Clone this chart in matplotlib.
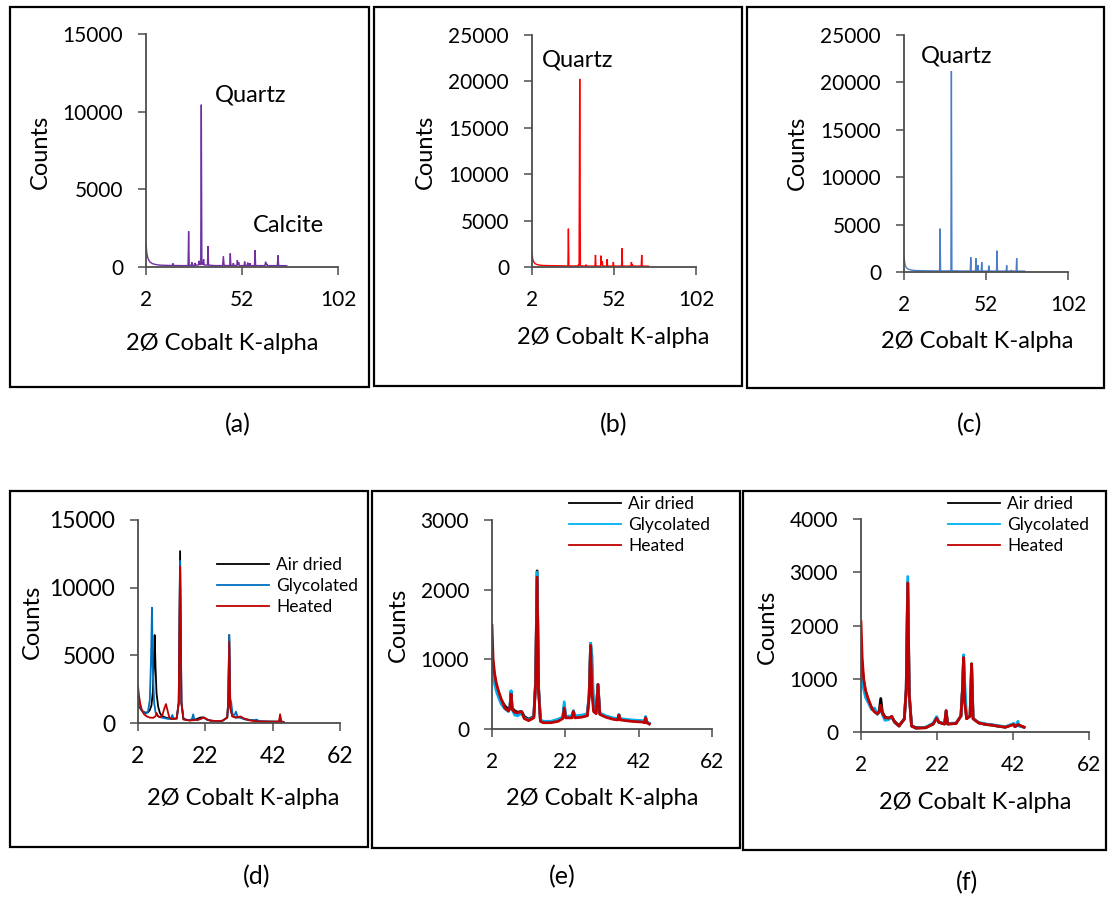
import matplotlib
matplotlib.use('Agg')
import matplotlib.pyplot as plt
from matplotlib.patches import Rectangle

plt.rcParams['font.family'] = ['Lato', 'DejaVu Sans']

W, H = 1108, 897

# ---- bulk sample patterns (2theta, counts) ----
a_xrd = [(2.0, 1550), (2.4, 900), (2.9, 600), (3.5, 420), (4.3, 300), (5.3, 220), (6.7, 170),
         (8.5, 130), (11, 110), (14, 100), (15.8, 100), (16.0, 230), (16.3, 100), (20, 90),
         (23.9, 90), (24.2, 2300), (24.5, 110), (25.6, 100), (25.9, 300), (26.2, 110),
         (27.3, 110), (27.6, 260), (27.9, 120), (29.3, 130), (29.6, 400), (29.9, 150),
         (30.5, 160), (30.8, 10450), (31.1, 200), (31.7, 150), (32.0, 500), (32.3, 130),
         (34.0, 120), (34.3, 1350), (34.6, 120), (38, 90), (41.9, 90), (42.3, 700), (42.7, 100),
         (45.6, 90), (45.9, 880), (46.2, 100), (47.2, 100), (47.5, 250), (47.8, 100),
         (49.3, 100), (49.6, 450), (49.9, 120), (50.3, 300), (50.6, 90), (53.1, 90),
         (53.4, 350), (53.7, 100), (54.7, 100), (55.0, 280), (55.3, 100), (55.9, 100),
         (56.2, 250), (56.5, 90), (58.5, 90), (58.8, 1075), (59.1, 90), (63.9, 90), (64.3, 340),
         (64.6, 120), (65.0, 200), (65.3, 90), (70.4, 90), (70.75, 750), (71.1, 90), (75.3, 80)]

b_xrd = [(2.0, 1480), (2.4, 900), (2.9, 600), (3.5, 430), (4.3, 320), (5.3, 250), (6.7, 200),
         (8.5, 170), (12, 150), (16, 140), (20, 130), (23.9, 110), (24.2, 4130), (24.5, 110),
         (30.1, 120), (30.4, 300), (30.7, 150), (31.1, 20270), (31.5, 250), (31.9, 130),
         (34.7, 100), (35.0, 250), (35.3, 100), (40.4, 100), (40.7, 1300), (41.0, 100),
         (43.8, 100), (44.1, 1220), (44.5, 200), (44.9, 580), (45.2, 100), (47.5, 100),
         (47.8, 830), (48.1, 100), (51.3, 100), (51.6, 540), (51.9, 100), (56.6, 100),
         (56.9, 2010), (57.2, 100), (62.3, 100), (62.6, 540), (62.9, 200), (63.2, 300),
         (63.5, 100), (68.6, 100), (68.9, 1300), (69.2, 100), (73.0, 90)]

c_xrd = [(2.0, 1620), (2.4, 1000), (2.9, 650), (3.5, 450), (4.3, 330), (5.3, 250), (6.7, 200),
         (8.5, 160), (12, 140), (16, 130), (20, 120), (23.7, 110), (24.0, 4570), (24.3, 110),
         (30.6, 120), (30.9, 21200), (31.2, 200), (31.6, 120), (42.4, 100), (42.7, 1550),
         (43.0, 100), (45.6, 100), (45.9, 1440), (46.2, 200), (46.8, 150), (47.1, 740),
         (47.4, 100), (49.1, 100), (49.4, 1050), (49.7, 100), (53.4, 100), (53.7, 670),
         (54.0, 100), (58.4, 100), (58.7, 2250), (59.0, 100), (64.3, 100), (64.6, 700),
         (64.9, 100), (67.2, 100), (67.5, 200), (67.8, 100), (70.4, 100), (70.7, 1440),
         (71.0, 100), (75.6, 90)]

# ---- clay fraction patterns: air dried / glycolated / heated ----
d_air = [(2.0, 1500), (2.5, 1150), (3.0, 950), (3.5, 850), (4.0, 780), (4.5, 760), (5.0, 800),
         (5.5, 950), (6.0, 1300), (6.4, 2300), (6.7, 4300), (6.95, 6500), (7.2, 4200),
         (7.5, 2200), (8.0, 1200), (8.5, 750), (9.0, 550), (10.0, 420), (11.0, 350),
         (12.0, 300), (13.5, 350), (14.1, 1500), (14.5, 12700), (14.9, 1500), (15.5, 300),
         (17, 200), (19, 250), (20.5, 400), (21.5, 420), (22.5, 250), (24, 150), (27, 150),
         (28.5, 400), (28.8, 1500), (29.1, 6500), (29.4, 1200), (30.0, 500), (31, 400),
         (32.5, 420), (33.5, 300), (36, 200), (38, 120), (42, 100), (44.0, 100), (44.2, 500),
         (44.5, 100), (45.2, 80)]
d_gly = [(2.0, 1940), (2.5, 1300), (3.0, 1000), (3.5, 820), (4.0, 720), (4.5, 700), (5.0, 900),
         (5.5, 1700), (5.85, 4500), (6.15, 8520), (6.4, 4000), (6.8, 1500), (7.2, 800),
         (8.0, 500), (9.0, 400), (10.0, 350), (11.0, 300), (11.8, 350), (12.2, 590),
         (12.6, 300), (13.5, 330), (14.1, 1500), (14.5, 12000), (14.9, 1500), (15.5, 280),
         (17.5, 200), (18.1, 350), (18.4, 640), (18.7, 300), (19.5, 200), (20.5, 300),
         (21.5, 380), (22.5, 250), (24, 150), (27, 150), (28.5, 400), (28.8, 1500),
         (29.1, 6500), (29.4, 1800), (29.7, 1500), (30.1, 600), (30.7, 600), (31.1, 840),
         (31.5, 500), (32.5, 380), (34, 250), (36, 200), (37.3, 250), (38, 130), (42, 100),
         (44.0, 100), (44.2, 400), (44.5, 100), (45.2, 80)]
d_hea = [(2.0, 2730), (2.3, 2000), (2.7, 1400), (3.2, 900), (3.8, 650), (4.5, 500), (5.5, 400),
         (6.5, 380), (7.2, 500), (7.5, 740), (7.9, 500), (8.5, 420), (9.2, 550), (9.8, 1050),
         (10.3, 1400), (10.8, 900), (11.3, 400), (12.2, 300), (13.5, 320), (14.1, 1500),
         (14.5, 11550), (14.9, 1500), (15.5, 260), (17.5, 180), (20, 250), (21.3, 380),
         (22.0, 350), (23, 200), (25, 150), (27, 160), (28.5, 400), (28.8, 1500), (29.1, 6000),
         (29.4, 1100), (30.0, 500), (31, 420), (32.5, 480), (33.5, 330), (35, 200), (37, 130),
         (40, 100), (43.9, 100), (44.2, 650), (44.5, 120), (45.2, 80)]

e_air = [(2.0, 1150), (2.3, 900), (2.7, 750), (3.2, 620), (3.8, 520), (4.5, 420), (5.5, 330),
         (6.5, 280), (6.9, 320), (7.2, 540), (7.5, 300), (8.2, 260), (9.0, 240), (10.1, 250),
         (10.8, 180), (12, 140), (13.4, 180), (13.9, 700), (14.3, 2270), (14.7, 600),
         (15.2, 130), (16, 100), (18, 100), (20, 120), (21.3, 160), (21.7, 330), (22.1, 170),
         (23.8, 170), (24.2, 260), (24.6, 170), (26.5, 180), (28.0, 200), (28.5, 500),
         (28.9, 1230), (29.3, 800), (29.7, 280), (30.4, 230), (30.9, 640), (31.4, 220),
         (33, 180), (35, 150), (36.3, 140), (36.6, 200), (37, 140), (40, 120), (43, 110),
         (43.6, 100), (43.9, 170), (44.2, 100), (44.9, 80)]
e_gly = [(2.0, 1050), (2.3, 800), (2.7, 650), (3.2, 540), (3.8, 450), (4.5, 360), (5.5, 290),
         (6.5, 250), (6.9, 300), (7.2, 550), (7.5, 280), (8.2, 200), (9.0, 190), (10.1, 230),
         (10.8, 160), (12, 130), (13.4, 170), (13.9, 650), (14.3, 2250), (14.7, 600),
         (15.2, 130), (16, 110), (18, 110), (20, 140), (21.3, 170), (21.7, 390), (22.1, 180),
         (23.8, 190), (24.2, 260), (24.6, 190), (26.5, 200), (28.0, 220), (28.5, 500),
         (28.9, 1230), (29.3, 1040), (29.7, 300), (30.4, 240), (30.9, 640), (31.4, 230),
         (33, 190), (35, 160), (36.3, 150), (36.6, 210), (37, 150), (40, 130), (43, 120),
         (43.6, 110), (43.9, 180), (44.2, 100), (44.9, 80)]
e_hea = [(2.0, 1490), (2.3, 1000), (2.7, 800), (3.2, 650), (3.8, 540), (4.5, 430), (5.5, 300),
         (6.5, 260), (6.9, 300), (7.2, 500), (7.5, 280), (8.2, 240), (9.0, 230), (9.7, 250),
         (10.1, 240), (10.8, 150), (12, 120), (13.4, 160), (13.9, 650), (14.3, 2180),
         (14.7, 550), (15.2, 110), (16, 90), (18, 90), (20, 110), (21.3, 150), (21.7, 300),
         (22.1, 160), (23.8, 160), (24.2, 250), (24.6, 160), (26.5, 170), (28.0, 190),
         (28.5, 450), (28.9, 1200), (29.3, 500), (29.7, 250), (30.4, 220), (30.9, 640),
         (31.4, 210), (33, 170), (35, 140), (36.3, 130), (36.6, 200), (37, 130), (40, 110),
         (43, 100), (43.6, 90), (43.9, 160), (44.2, 90), (44.9, 70)]

f_air = [(2.0, 1600), (2.3, 1200), (2.7, 950), (3.2, 750), (3.9, 600), (4.8, 450), (5.5, 400),
         (6.3, 350), (6.8, 400), (7.2, 630), (7.6, 380), (8.3, 280), (9.2, 260), (10.1, 290),
         (10.8, 200), (12, 120), (13.4, 250), (13.9, 800), (14.3, 2800), (14.7, 700),
         (15.3, 120), (16.5, 80), (19, 80), (21.0, 150), (21.9, 270), (22.5, 180), (24.0, 150),
         (24.4, 400), (24.8, 150), (27, 160), (28.3, 300), (28.7, 800), (29.0, 1400),
         (29.3, 600), (29.8, 250), (30.7, 300), (31.1, 1280), (31.5, 250), (33, 170),
         (35, 140), (36.4, 130), (38, 110), (40, 90), (42.2, 150), (42.5, 100), (43.3, 130),
         (44.9, 90)]
f_gly = [(2.0, 1400), (2.3, 1000), (2.7, 800), (3.2, 650), (3.9, 550), (4.8, 420), (5.6, 450),
         (6.3, 330), (6.8, 370), (7.2, 480), (7.6, 330), (8.3, 220), (9.2, 230), (10.1, 280),
         (10.8, 180), (12, 110), (13.4, 240), (13.9, 800), (14.3, 2920), (14.7, 700),
         (15.3, 110), (16.5, 70), (19, 90), (21.0, 170), (21.9, 290), (22.5, 190), (24.0, 160),
         (24.4, 380), (24.8, 160), (27, 170), (28.3, 300), (28.7, 800), (29.0, 1450),
         (29.3, 950), (29.8, 260), (30.7, 300), (31.1, 1250), (31.5, 250), (33, 180),
         (35, 150), (36.4, 140), (38, 120), (40, 100), (42.2, 160), (42.5, 100), (43.3, 200),
         (43.6, 110), (44.9, 90)]
f_hea = [(2.0, 2070), (2.3, 1400), (2.7, 1000), (3.2, 780), (3.9, 620), (4.8, 450), (5.5, 380),
         (6.3, 340), (6.8, 380), (7.2, 505), (7.6, 360), (8.3, 270), (9.2, 260), (10.1, 290),
         (10.8, 190), (12, 110), (13.4, 240), (13.9, 800), (14.3, 2800), (14.7, 700),
         (15.3, 110), (16.5, 70), (19, 80), (21.0, 150), (21.9, 260), (22.5, 180), (24.0, 150),
         (24.4, 400), (24.8, 150), (27, 160), (28.3, 300), (28.7, 800), (29.0, 1400),
         (29.3, 550), (29.8, 250), (30.7, 300), (31.1, 1280), (31.5, 250), (33, 170),
         (35, 140), (36.4, 130), (38, 110), (40, 90), (42.2, 140), (42.5, 100), (43.3, 140),
         (44.9, 90)]

treatments = ['Air dried', 'Glycolated', 'Heated']
xlabel = '2\u00d8 Cobalt K-alpha'

fig = plt.figure(figsize=(W / 100, H / 100), dpi=100)


def px_rect(l, t, r, b):
    return [l / W, 1 - b / H, (r - l) / W, (b - t) / H]


def ftext(x, y, s, **kw):
    kw.setdefault('ha', 'center')
    kw.setdefault('va', 'center')
    fig.text(x / W, 1 - y / H, s, **kw)


def frame(l, t, r, b):
    fig.patches.append(Rectangle((l / W, 1 - b / H), (r - l) / W, (b - t) / H,
                                 transform=fig.transFigure, fill=False,
                                 edgecolor='black', linewidth=1.6))


def make_axes(rect, ymax, ystep, xmax, xstep, fs):
    ax = fig.add_axes(px_rect(*rect))
    ax.set_xlim(2, xmax)
    ax.set_ylim(0, ymax)
    ax.set_xticks(range(2, xmax + 1, xstep))
    ax.set_yticks(range(0, ymax + 1, ystep))
    for s in ['top', 'right']:
        ax.spines[s].set_visible(False)
    for s in ['left', 'bottom']:
        ax.spines[s].set_color('#4d4d4d')
        ax.spines[s].set_linewidth(1.3)
    ax.tick_params(direction='out', length=5.5, width=1.1, color='#4d4d4d',
                   labelsize=fs, pad=11)
    ax.patch.set_alpha(0)
    return ax


def draw(ax, pts, color, lw):
    xs = [p[0] for p in pts]
    ys = [p[1] for p in pts]
    ax.plot(xs, ys, color=color, lw=lw, solid_joinstyle='miter')


LAB = 17      # axis titles
ANN = 17      # mineral names
TAG = 18      # panel letters

# (a) bulk sample 1
frame(10, 7, 369, 387)
ax = make_axes((146, 34, 338, 267), 15000, 5000, 102, 50, 15)
draw(ax, a_xrd, '#7030A0', 1.0)
ftext(40, 152, 'Counts', rotation=90, fontsize=LAB)
ftext(222, 343, xlabel, fontsize=LAB)
ftext(251, 95, 'Quartz', fontsize=ANN)
ftext(288, 226, 'Calcite', fontsize=ANN)
ftext(238, 425, '(a)', fontsize=TAG)

# (b) bulk sample 2
frame(374, 7, 742, 386)
ax = make_axes((532, 35, 696, 267), 25000, 5000, 102, 50, 15)
draw(ax, b_xrd, '#FF0000', 1.0)
ftext(425, 152, 'Counts', rotation=90, fontsize=LAB)
ftext(613, 338, xlabel, fontsize=LAB)
ftext(578, 60, 'Quartz', fontsize=ANN)
ftext(614, 425, '(b)', fontsize=TAG)

# (c) bulk sample 3
frame(747, 7, 1104, 388)
ax = make_axes((904, 35, 1068, 272), 25000, 5000, 102, 50, 15)
draw(ax, c_xrd, '#4A7EC7', 1.0)
ftext(797, 153, 'Counts', rotation=90, fontsize=LAB)
ftext(977, 342, xlabel, fontsize=LAB)
ftext(957, 56, 'Quartz', fontsize=ANN)
ftext(970, 425, '(c)', fontsize=TAG)


def clay_panel(box, rect, ymax, ystep, series, colors, lw, fs, ylab, xlab, leg, tag):
    frame(*box)
    ax = make_axes(rect, ymax, ystep, 62, 20, fs)
    for pts, col, name in zip(series, colors, treatments):
        xs = [p[0] for p in pts]
        ys = [p[1] for p in pts]
        ax.plot(xs, ys, color=col, lw=lw, label=name)
    lg = ax.legend(loc='upper left', bbox_to_anchor=(leg[0] / W, 1 - leg[1] / H),
                   bbox_transform=fig.transFigure, frameon=False, fontsize=12.5,
                   handlelength=3.0, handletextpad=0.4, labelspacing=0.3,
                   borderpad=0, borderaxespad=0)
    for h in lg.get_lines():
        h.set_linewidth(1.3)
    ftext(ylab[0], ylab[1], 'Counts', rotation=90, fontsize=LAB)
    ftext(xlab[0], xlab[1], xlabel, fontsize=LAB)
    ftext(tag[0], tag[1], tag[2], fontsize=TAG)


# (d)
clay_panel((10, 491, 368, 847), (138, 520, 340, 723), 15000, 5000,
           [d_air, d_gly, d_hea], ['black', '#0070C0', '#C00000'], 1.3, 16.5,
           (32, 622), (243, 798), (217, 557), (257, 877, '(d)'))
# (e)
clay_panel((372, 491, 740, 848), (492, 520, 712, 729), 3000, 1000,
           [e_air, e_gly, e_hea], ['black', '#00B0F0', '#C00000'], 2.0, 15,
           (398, 625), (602, 798), (569, 496), (562, 877, '(e)'))
# (f)
clay_panel((743, 491, 1106, 850), (861, 519, 1089, 732), 4000, 1000,
           [f_air, f_gly, f_hea], ['black', '#00B0F0', '#C00000'], 2.0, 15,
           (767, 627), (975, 802), (948, 496), (967, 883, '(f)'))

fig.savefig('out.png', dpi=100)
